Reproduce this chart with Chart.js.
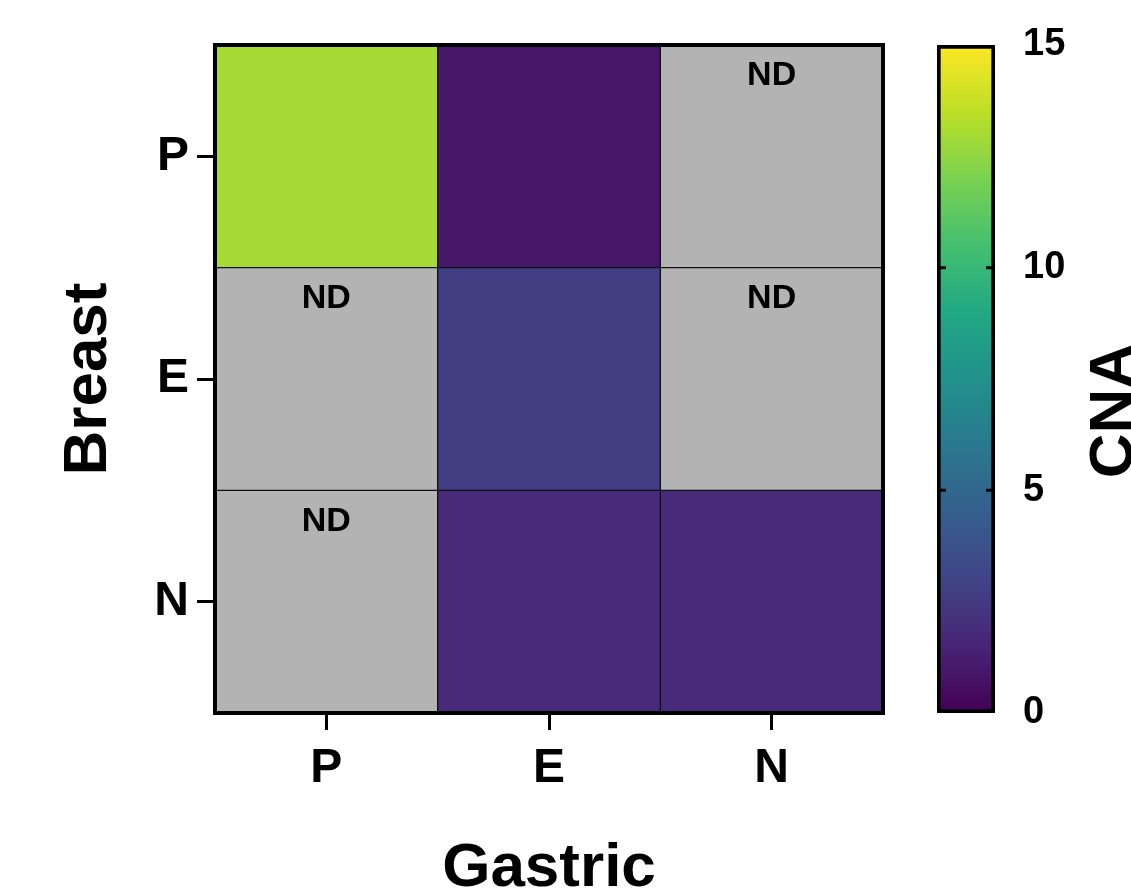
<!DOCTYPE html>
<html>
<head>
<meta charset="utf-8">
<script src="https://cdn.jsdelivr.net/npm/chart.js@4.4.1/dist/chart.umd.min.js"></script>
<style>
    html, body { margin: 0; padding: 0; background: #fff; }
    #wrap { position: relative; width: 1131px; height: 896px; overflow: hidden; }
    #heat { position: absolute; left: 0; top: 0; }
    #scaleBar { position: absolute; left: 920px; top: 0; }
</style>
</head>
<body>
<div id="wrap">
    <canvas id="heat" width="920" height="896"></canvas>
    <canvas id="scaleBar" width="211" height="896"></canvas>
</div>
<script>
    // data (null = ND)
    var gastricLabels = ['P', 'E', 'N'];
    var breastLabels = ['P', 'E', 'N'];   // top to bottom
    var cnaRowP = [13.0, 1.0, null];
    var cnaRowE = [null, 2.7, null];
    var cnaRowN = [null, 1.8, 1.8];
    var cnaMin = 0;
    var cnaMax = 15;
    var cnaTicks = [0, 5, 10, 15];

    var VIRIDIS = ['#440154', '#482475', '#414487', '#355f8d', '#2a788e', '#21918c',
                   '#22a884', '#44bf70', '#7ad151', '#bddf26', '#fde725'];
    var ND_COLOR = '#b3b3b3';
    var FONT = '"Liberation Sans", Arial, sans-serif';

    function hexToRgb(h) {
        return [parseInt(h.substr(1, 2), 16), parseInt(h.substr(3, 2), 16), parseInt(h.substr(5, 2), 16)];
    }

    function viridis(v) {
        var t = Math.max(0, Math.min(1, (v - cnaMin) / (cnaMax - cnaMin)));
        var pos = t * (VIRIDIS.length - 1);
        var i = Math.min(Math.floor(pos), VIRIDIS.length - 2);
        var f = pos - i;
        var a = hexToRgb(VIRIDIS[i]), b = hexToRgb(VIRIDIS[i + 1]);
        var c = a.map(function (x, k) { return Math.round(x + (b[k] - x) * f); });
        return 'rgb(' + c.join(',') + ')';
    }

    function rowDataset(values, rowIndex) {
        // rowIndex 0 = top row
        var lo = breastLabels.length - 1 - rowIndex;
        return {
            label: breastLabels[rowIndex],
            data: values.map(function () { return [lo, lo + 1]; }),
            cna: values,
            backgroundColor: values.map(function (v) { return v === null ? ND_COLOR : viridis(v); }),
            borderColor: '#111',
            borderWidth: 1,
            borderSkipped: false,
            grouped: false,
            barPercentage: 1,
            categoryPercentage: 1
        };
    }

    var ndLabels = {
        id: 'ndLabels',
        afterDatasetsDraw: function (chart) {
            var ctx = chart.ctx;
            ctx.save();
            ctx.fillStyle = '#000';
            ctx.font = 'bold 34px ' + FONT;
            ctx.textAlign = 'center';
            ctx.textBaseline = 'middle';
            chart.data.datasets.forEach(function (ds, i) {
                var meta = chart.getDatasetMeta(i);
                ds.cna.forEach(function (v, j) {
                    if (v !== null) return;
                    var el = meta.data[j];
                    var top = Math.min(el.y, el.base);
                    ctx.fillText('ND', el.x, top + 31);
                });
            });
            ctx.restore();
        }
    };

    var frame = {
        id: 'frame',
        afterDatasetsDraw: function (chart) {
            var a = chart.chartArea, ctx = chart.ctx;
            ctx.save();
            ctx.strokeStyle = '#000';
            ctx.lineWidth = 4;
            ctx.strokeRect(a.left, a.top, a.right - a.left, a.bottom - a.top);
            ctx.restore();
        }
    };

    new Chart(document.getElementById('heat').getContext('2d'), {
        type: 'bar',
        data: {
            labels: gastricLabels,
            datasets: [rowDataset(cnaRowP, 0), rowDataset(cnaRowE, 1), rowDataset(cnaRowN, 2)]
        },
        options: {
            responsive: false,
            animation: false,
            layout: { padding: { top: 45, right: 37, left: 0, bottom: 0 } },
            plugins: { legend: { display: false }, tooltip: { enabled: false } },
            scales: {
                x: {
                    afterFit: function (s) { s.height = 183; },
                    grid: { display: true, offset: false, drawOnChartArea: false, drawTicks: true, tickLength: 17, lineWidth: 3, color: '#000' },
                    border: { display: true, color: '#000', width: 4 },
                    ticks: { color: '#000', padding: 10, font: { family: FONT, size: 48, weight: 'bold' } },
                    title: { display: true, text: 'Gastric', color: '#000', padding: { bottom: -4 }, font: { family: FONT, size: 62, weight: 'bold', lineHeight: 1 } }
                },
                y: {
                    type: 'linear',
                    min: 0,
                    max: 3,
                    afterFit: function (s) { s.width = 215; },
                    afterBuildTicks: function (s) {
                        s.ticks = breastLabels.map(function (l, i) { return { value: breastLabels.length - 0.5 - i }; });
                    },
                    grid: { display: true, drawOnChartArea: false, drawTicks: true, tickLength: 18, lineWidth: 3, color: '#000' },
                    border: { display: true, color: '#000', width: 4 },
                    ticks: {
                        color: '#000', padding: 8, font: { family: FONT, size: 48, weight: 'bold' },
                        callback: function (v) { return breastLabels[breastLabels.length - 1 - Math.floor(v)]; }
                    },
                    title: { display: true, text: 'Breast', color: '#000', padding: { top: 58 }, font: { family: FONT, size: 62, weight: 'bold', lineHeight: 1 } }
                }
            }
        },
        plugins: [ndLabels, frame]
    });

    // colour bar
    var barTicks = {
        id: 'barTicks',
        afterDatasetsDraw: function (chart) {
            var ctx = chart.ctx, a = chart.chartArea, y = chart.scales.y;
            ctx.save();
            ctx.strokeStyle = '#000';
            ctx.lineWidth = 3;
            cnaTicks.forEach(function (t) {
                if (t === cnaMin || t === cnaMax) return;
                var py = y.getPixelForValue(t);
                ctx.beginPath();
                ctx.moveTo(a.left, py); ctx.lineTo(a.left + 9, py);
                ctx.moveTo(a.right - 9, py); ctx.lineTo(a.right, py);
                ctx.stroke();
            });
            // axis title, reading bottom to top, cut at the page edge
            ctx.fillStyle = '#000';
            ctx.font = 'bold 62px ' + FONT;
            ctx.textAlign = 'center';
            ctx.textBaseline = 'alphabetic';
            ctx.translate(a.right + 137, (a.top + a.bottom) / 2 + 32);
            ctx.rotate(-Math.PI / 2);
            ctx.fillText('CNA', 0, 0);
            ctx.restore();
        }
    };

    new Chart(document.getElementById('scaleBar').getContext('2d'), {
        type: 'bar',
        data: {
            labels: ['CNA'],
            datasets: [{
                data: [[cnaMin, cnaMax]],
                backgroundColor: function (c) {
                    var a = c.chart.chartArea;
                    if (!a) return VIRIDIS[0];
                    var g = c.chart.ctx.createLinearGradient(0, a.bottom, 0, a.top);
                    VIRIDIS.forEach(function (col, i) { g.addColorStop(i / (VIRIDIS.length - 1), col); });
                    return g;
                },
                borderColor: '#000',
                borderWidth: 4,
                borderSkipped: false,
                barPercentage: 1,
                categoryPercentage: 1
            }]
        },
        options: {
            responsive: false,
            animation: false,
            layout: { padding: { top: 45, bottom: 183, left: 17, right: 0 } },
            plugins: { legend: { display: false }, tooltip: { enabled: false } },
            scales: {
                x: { display: false },
                y: {
                    position: 'right',
                    min: cnaMin,
                    max: cnaMax,
                    afterFit: function (s) { s.width = 136; },
                    afterBuildTicks: function (s) {
                        s.ticks = cnaTicks.map(function (v) { return { value: v }; });
                    },
                    grid: { display: false },
                    border: { display: false },
                    ticks: { color: '#000', padding: 20, font: { family: FONT, size: 38, weight: 'bold' } }
                }
            }
        },
        plugins: [barTicks]
    });
</script>
</body>
</html>
